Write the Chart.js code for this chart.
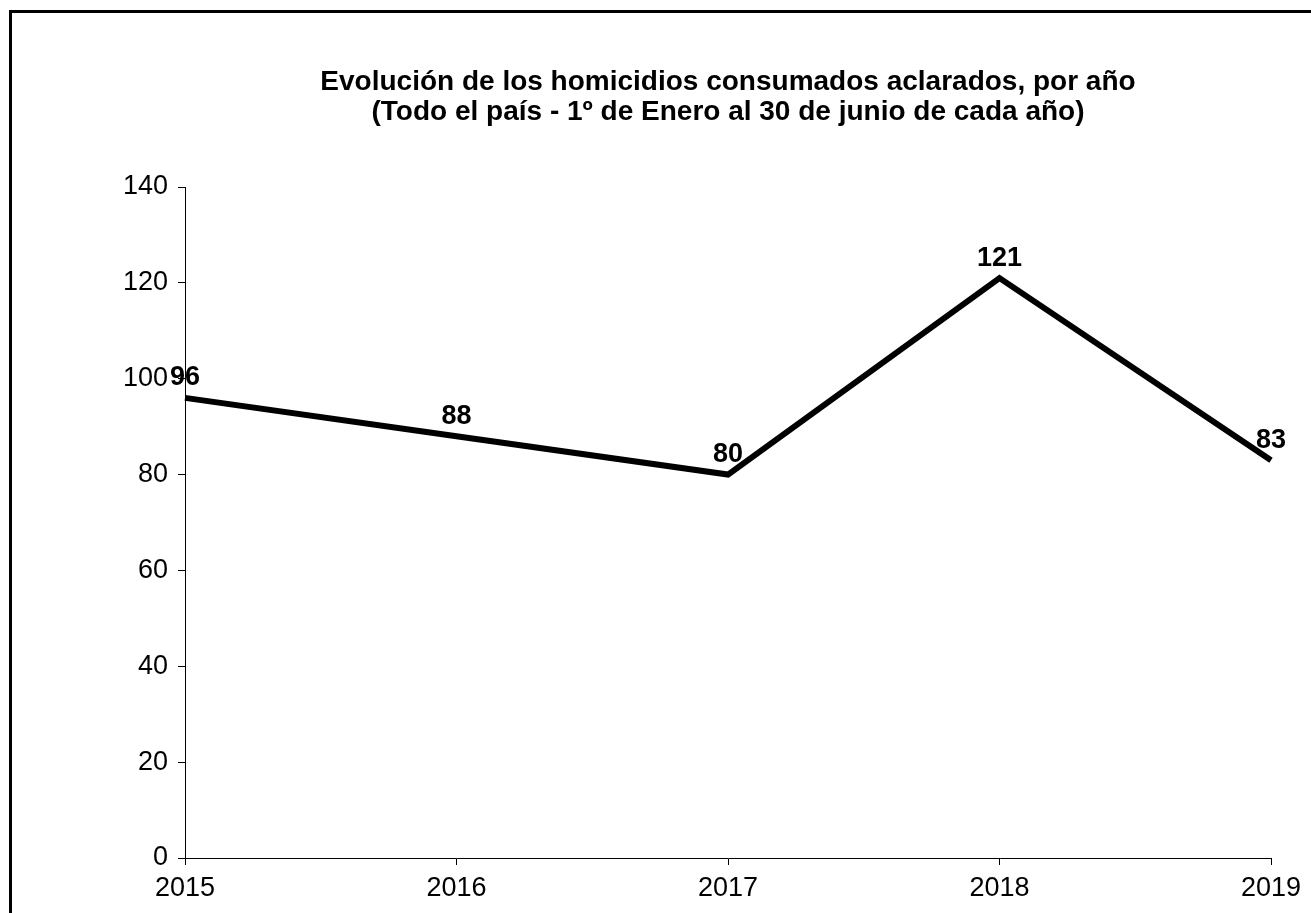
<!DOCTYPE html>
<html>
<head>
<meta charset="utf-8">
<script src="https://cdn.jsdelivr.net/npm/chart.js@4/dist/chart.umd.min.js"></script>
<style>
    body { margin: 0; background: #fff; overflow: hidden; }
    #wrap { position: relative; width: 1311px; height: 913px; }
    #frame { position: absolute; left: 9px; top: 10px; width: 1400px; height: 1000px; border: 3px solid #000; }
    canvas { position: absolute; left: 0; top: 0; }
</style>
</head>
<body>
<div id="wrap">
    <div id="frame"></div>
    <canvas id="chart" width="1311" height="913"></canvas>
</div>
<script>
const years = ['2015', '2016', '2017', '2018', '2019'];
const homicidios = [96, 88, 80, 121, 83];
const titleLines = [
    'Evolución de los homicidios consumados aclarados, por año',
    '(Todo el país - 1º de Enero al 30 de junio de cada año)'
];

const FONT = '"Liberation Sans", Arial, sans-serif';

// value labels above each point + title centred over the plot area
const extras = {
    id: 'extras',
    afterDatasetsDraw(chart) {
        const ctx = chart.ctx;
        const meta = chart.getDatasetMeta(0);
        const area = chart.chartArea;
        ctx.save();
        ctx.fillStyle = '#000';
        ctx.textAlign = 'center';
        ctx.textBaseline = 'middle';
        ctx.font = 'bold 27px ' + FONT;
        meta.data.forEach((pt, i) => {
            ctx.fillText(String(homicidios[i]), pt.x, pt.y - 20);
        });
        ctx.font = 'bold 28px ' + FONT;
        const cx = (area.left + area.right) / 2;
        titleLines.forEach((line, i) => {
            ctx.fillText(line, cx, 82 + i * 30);
        });
        ctx.restore();
    }
};

new Chart(document.getElementById('chart').getContext('2d'), {
    type: 'line',
    data: {
        labels: years,
        datasets: [{
            data: homicidios,
            borderColor: '#000',
            borderWidth: 6,
            borderJoinStyle: 'miter',
            tension: 0,
            pointRadius: 0,
            clip: false
        }]
    },
    options: {
        responsive: false,
        devicePixelRatio: 1,
        animation: false,
        layout: { padding: { top: 187, right: 40, left: 0, bottom: 0 } },
        plugins: {
            legend: { display: false },
            tooltip: { enabled: false },
            title: { display: false }
        },
        scales: {
            x: {
                offset: false,
                afterFit(scale) { scale.height = 55; },
                border: { display: true, color: '#000', width: 1 },
                grid: { drawOnChartArea: false, drawTicks: true, tickLength: 7, color: '#000' },
                ticks: { color: '#000', font: { family: FONT, size: 27 }, padding: 7, maxRotation: 0 }
            },
            y: {
                min: 0,
                max: 140,
                afterFit(scale) { scale.width = 185; },
                border: { display: true, color: '#000', width: 1 },
                grid: { drawOnChartArea: false, drawTicks: true, tickLength: 7, color: '#000' },
                ticks: { stepSize: 20, color: '#000', font: { family: FONT, size: 27 }, padding: 10 }
            }
        }
    },
    plugins: [extras]
});
</script>
</body>
</html>
